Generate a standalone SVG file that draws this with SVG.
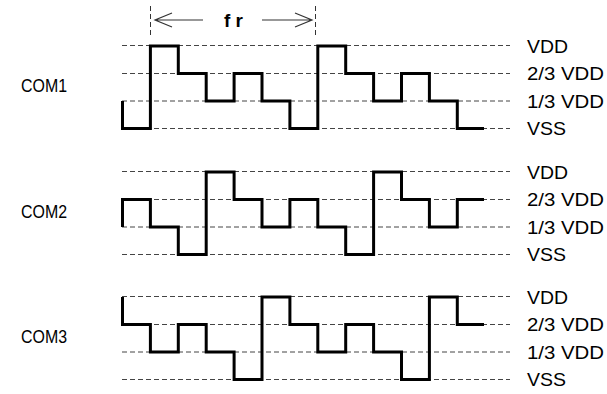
<svg xmlns="http://www.w3.org/2000/svg" width="607" height="394" viewBox="0 0 607 394">
<style>
.grid{stroke:#444;stroke-width:1;stroke-dasharray:5,3;fill:none}
.vdash{stroke:#333;stroke-width:1;stroke-dasharray:5,3;fill:none}
.wave{stroke:#000;stroke-width:3;fill:none;stroke-linejoin:miter;stroke-linecap:butt}
.arr{stroke:#333;stroke-width:1.2;fill:none}
.lbl{font-family:"Liberation Sans",Arial,sans-serif;font-size:18px;fill:#000}
.com{font-family:"Liberation Sans",Arial,sans-serif;font-size:18px;fill:#000}
.fr{font-family:"Liberation Sans",Arial,sans-serif;font-size:19px;font-weight:bold;fill:#000}
</style>
<rect width="607" height="394" fill="#fff"/>
<g id="gridlines">
<path class="grid" d="M122,45.5H510M122,73.5H510M122,101H510M122,128.5H510"/>
<path class="grid" d="M122,171.5H510M122,199.5H510M122,227H510M122,254.5H510"/>
<path class="grid" d="M122,296.5H510M122,324.5H510M122,352H510M122,379.5H510"/>
</g>
<g id="fr-marker">
<path class="vdash" d="M150.5,6V38M315.5,6V38"/>
<path class="arr" d="M155,20H203M172,13L155,20L172,27"/>
<path class="arr" d="M262,20H312M295,13L312,20L295,27"/>
<text class="fr" x="224" y="26.5">f r</text>
</g>
<g id="com1">
<text class="com" x="21" y="91.5" textLength="46" lengthAdjust="spacingAndGlyphs">COM1</text>
<path class="wave" d="M122.5,101V128.5H150.4V46H178.3V73.5H206.2V101H234.1V73.5H262V101H289.9V128.5H317.8V46H345.7V73.5H373.6V101H401.5V73.5H429.4V101H457.3V128.5H484"/>
</g>
<g id="com2">
<text class="com" x="21" y="217.5" textLength="46" lengthAdjust="spacingAndGlyphs">COM2</text>
<path class="wave" d="M122.5,227V199.5H150.4V227H178.3V254.5H206.2V172H234.1V199.5H262V227H289.9V199.5H317.8V227H345.7V254.5H373.6V172H401.5V199.5H429.4V227H457.3V199.5H484"/>
</g>
<g id="com3">
<text class="com" x="21" y="342.5" textLength="46" lengthAdjust="spacingAndGlyphs">COM3</text>
<path class="wave" d="M122.5,297V324.5H150.4V352H178.3V324.5H206.2V352H234.1V379.5H262V297H289.9V324.5H317.8V352H345.7V324.5H373.6V352H401.5V379.5H429.4V297H457.3V324.5H484"/>
</g>
<g id="levels1">
<text class="lbl" x="527" y="52.5" textLength="41" lengthAdjust="spacingAndGlyphs">VDD</text>
<text class="lbl" x="527" y="80" textLength="77" lengthAdjust="spacingAndGlyphs">2/3 VDD</text>
<text class="lbl" x="527" y="107.5" textLength="77" lengthAdjust="spacingAndGlyphs">1/3 VDD</text>
<text class="lbl" x="527" y="135" textLength="39" lengthAdjust="spacingAndGlyphs">VSS</text>
</g>
<g id="levels2">
<text class="lbl" x="527" y="178.5" textLength="41" lengthAdjust="spacingAndGlyphs">VDD</text>
<text class="lbl" x="527" y="206" textLength="77" lengthAdjust="spacingAndGlyphs">2/3 VDD</text>
<text class="lbl" x="527" y="233.5" textLength="77" lengthAdjust="spacingAndGlyphs">1/3 VDD</text>
<text class="lbl" x="527" y="261" textLength="39" lengthAdjust="spacingAndGlyphs">VSS</text>
</g>
<g id="levels3">
<text class="lbl" x="527" y="303.5" textLength="41" lengthAdjust="spacingAndGlyphs">VDD</text>
<text class="lbl" x="527" y="331" textLength="77" lengthAdjust="spacingAndGlyphs">2/3 VDD</text>
<text class="lbl" x="527" y="358.5" textLength="77" lengthAdjust="spacingAndGlyphs">1/3 VDD</text>
<text class="lbl" x="527" y="386" textLength="39" lengthAdjust="spacingAndGlyphs">VSS</text>
</g>
</svg>
